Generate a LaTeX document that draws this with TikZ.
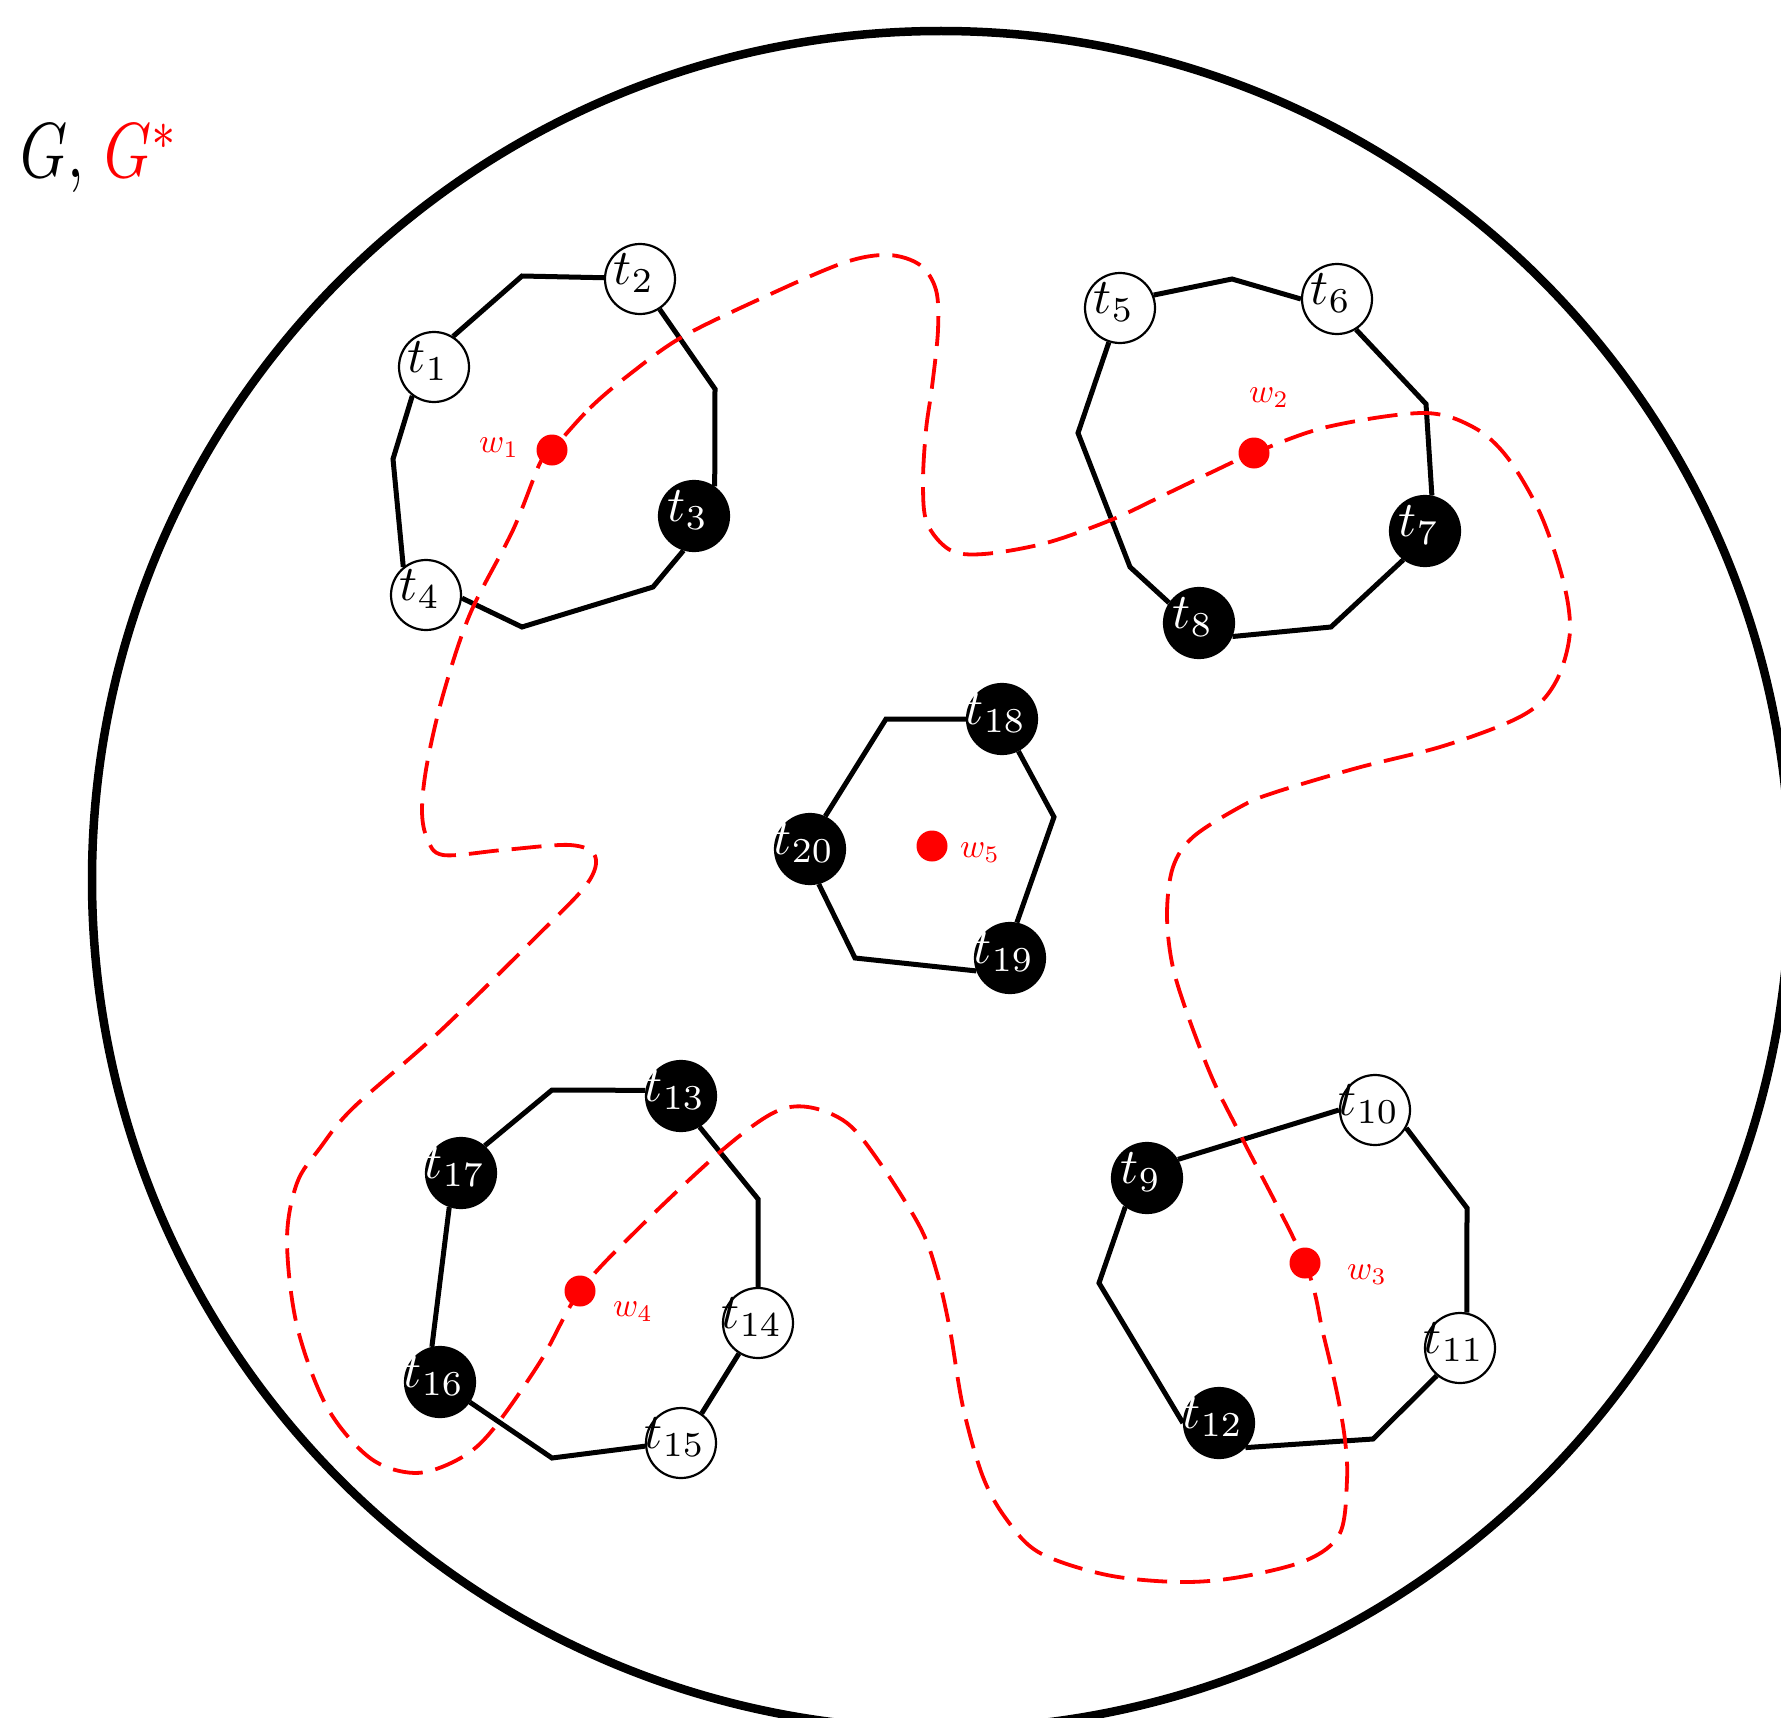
\documentclass[tikz,border=0pt]{standalone}
\usepackage{graphicx}
\tikzset{
  tnode/.style={circle, minimum size=70pt, inner sep=0pt, line width=2.2pt, draw=black},
  tw/.style={tnode, fill=white},
  tb/.style={tnode, fill=black},
  tlab/.style={scale=5.0, inner sep=0pt},
  poly/.style={line width=5pt},
  wdot/.style={circle, fill=red, minimum size=31pt, inner sep=0pt},
  wlab/.style={scale=3.4, text=red, inner sep=0pt},
  gstar/.style={red, line width=3.8pt, dash pattern=on 30pt off 13pt},
}
\newcommand\Term[4]{%
  \node[#1] (t#2) at (#3) {};
  \node[tlab, text=#4] (lt#2) at ([shift={(-6pt,6pt)}]t#2.center) {$t_{#2}$};}
\begin{document}
\begin{tikzpicture}[x=1pt, y=-1pt]
\useasboundingbox (0,0) rectangle (1781,1718);
% outer circle
\node[circle, draw=black, line width=8.5pt, minimum size=1698pt, inner sep=0pt, outer sep=0pt] (outer) at (941,880) {};
% title
\node[anchor=base west, inner sep=0pt] (title) at (20,178) {\scalebox{6.0}[7.8]{$G,\,{\color{red}G^{*}}$}};

% ---- group 1
\coordinate (a1) at (522,276);
\coordinate (a2) at (393,459);
\coordinate (a3) at (522,627);
\coordinate (a4) at (653,587);
\coordinate (a5) at (715,389);
\Term{tw}{1}{434,367}{black}
\Term{tw}{2}{640,279}{black}
\Term{tb}{3}{694,516}{white}
\Term{tw}{4}{426,595}{black}
\draw[poly] (t2.178) -- (a1) -- (t1.58);
\draw[poly] (t1.233) -- (a2) -- (t4.129);
\draw[poly] (t4.-5) -- (a3) -- (a4) -- (t3.-107);
\draw[poly] (t3.55) -- (a5) -- (t2.-57);

% ---- group 2
\coordinate (b1) at (1232,279);
\coordinate (b2) at (1426,404);
\coordinate (b3) at (1331,627);
\coordinate (b4) at (1130,567);
\coordinate (b5) at (1078,433);
\Term{tw}{5}{1120,308}{black}
\Term{tw}{6}{1337,299}{black}
\Term{tb}{7}{1425,531}{white}
\Term{tb}{8}{1199,623}{white}
\draw[poly] (t5.21) -- (b1) -- (t6.180);
\draw[poly] (t6.-58) -- (b2) -- (t7.79);
\draw[poly] (t7.-127) -- (b3) -- (t8.-22);
\draw[poly] (t8.146) -- (b4) -- (b5) -- (t5.-108);

% ---- group 3 (centre)
\coordinate (c1) at (886,719);
\coordinate (c2) at (1054,817);
\coordinate (c3) at (855,958);
\Term{tb}{18}{1002,719}{white}
\Term{tb}{19}{1010,958}{white}
\Term{tb}{20}{810,849}{white}
\draw[poly] (t20.65) -- (c1) -- (t18.180);
\draw[poly] (t18.-63) -- (c2) -- (t19.79);
\draw[poly] (t19.-159) -- (c3) -- (t20.-76);

% ---- group 4
\coordinate (d1) at (552,1090);
\coordinate (d2) at (758,1199);
\coordinate (d3) at (552,1458);
\Term{tb}{13}{681,1096}{white}
\Term{tw}{14}{758,1323}{black}
\Term{tw}{15}{681,1443}{black}
\Term{tb}{16}{440,1382}{white}
\Term{tb}{17}{461,1173}{white}
\draw[poly] (t17.49) -- (d1) -- (t13.171);
\draw[poly] (t13.-59) -- (d2) -- (t14.90);
\draw[poly] (t14.-122) -- (t15.55);
\draw[poly] (t15.-175) -- (d3) -- (t16.-34);
\draw[poly] (t16.103) -- (t17.-109);

% ---- group 5
\coordinate (e1) at (1467,1208);
\coordinate (e2) at (1373,1439);
\coordinate (e3) at (1099,1283);
\Term{tb}{9}{1147,1178}{white}
\Term{tw}{10}{1375,1110}{black}
\Term{tw}{11}{1460,1348}{black}
\Term{tb}{12}{1219,1423}{white}
\draw[poly] (t9.31) -- (t10.180);
\draw[poly] (t10.-30) -- (e1) -- (t11.79);
\draw[poly] (t11.-130) -- (e2) -- (t12.-43);
\draw[poly] (t12.180) -- (e3) -- (t9.-127);

% ---- dual curve G*
\draw[gstar] plot[smooth cycle, tension=0.55] coordinates {
(552,450) (590,408) (630,374) (682,337) (762,298) (843,263) (888,255) (920,265)
(936,290) (938,330) (932,387) (926,430) (923,483) (927,523) (950,550) (984,554)
(1046,543) (1111,520) (1160,497) (1210,473) (1254,453) (1327,427) (1423,413)
(1473,427) (1507,457) (1540,513) (1563,580) (1570,630) (1560,673) (1540,703)
(1507,723) (1440,747) (1357,768) (1273,793) (1240,807) (1193,837) (1173,867)
(1167,913) (1172,963) (1187,1013) (1213,1080) (1243,1140) (1305,1263)
(1323,1333) (1337,1393) (1345,1440) (1347,1480) (1340,1533) (1307,1560)
(1240,1577) (1180,1582) (1107,1575) (1040,1553) (1007,1520) (983,1477)
(963,1407) (950,1330) (937,1273) (920,1227) (880,1163) (847,1123) (808,1107)
(773,1113) (720,1152) (640,1227) (580,1291) (540,1362) (490,1433) (457,1460)
(415,1473) (370,1458) (327,1407) (297,1326) (287,1240) (297,1183) (320,1148)
(353,1108) (437,1034) (537,936) (587,884) (595,856) (570,845) (503,850)
(443,855) (427,838) (422,810) (427,764) (443,695) (470,614) (513,530) (540,463)};

% ---- dual vertices
\node[wdot] (w1) at (552,450) {};
\node[wdot] (w2) at (1254,453) {};
\node[wdot] (w3) at (1305,1263) {};
\node[wdot] (w4) at (580,1291) {};
\node[wdot] (w5) at (932,846) {};
\node[wlab] (lw1) at (499,448) {$w_1$};
\node[wlab] (lw2) at (1269,398) {$w_2$};
\node[wlab] (lw3) at (1367,1275) {$w_3$};
\node[wlab] (lw4) at (633,1312) {$w_4$};
\node[wlab] (lw5) at (980,853) {$w_5$};
\end{tikzpicture}
\end{document}
